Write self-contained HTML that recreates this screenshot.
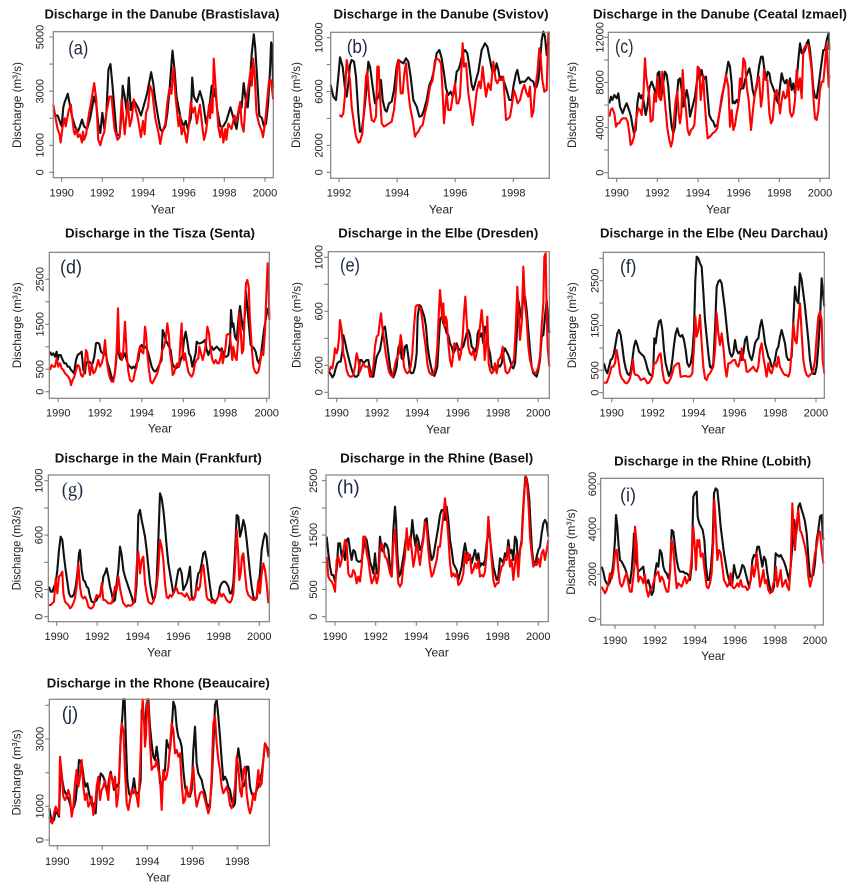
<!DOCTYPE html>
<html><head><meta charset="utf-8"><style>
html,body{margin:0;padding:0;background:#fff;}
svg{display:block;}
.t{font-family:"Liberation Sans",Arial,sans-serif;font-weight:bold;font-size:13px;fill:#111;text-anchor:middle;}
.tk{font-family:"Liberation Sans",Arial,sans-serif;font-size:11px;fill:#222;text-anchor:middle;}
.yl{font-family:"Liberation Sans",Arial,sans-serif;font-size:12px;fill:#222;text-anchor:middle;}
.yr{font-family:"Liberation Sans",Arial,sans-serif;font-size:12px;fill:#222;text-anchor:middle;}
.pl{font-family:"Liberation Sans",Arial,sans-serif;font-size:19px;fill:#1F2A44;}
.ps{font-family:"Liberation Serif","Times New Roman",serif;font-size:20px;fill:#1F2A44;}
.box{fill:none;stroke:#808080;stroke-width:1.2;}
.ax{fill:none;stroke:#808080;stroke-width:1.1;}
.k{fill:none;stroke:#111;stroke-width:2.1;stroke-linejoin:round;vector-effect:non-scaling-stroke;}
.r{fill:none;stroke:#ff0000;stroke-width:2.1;stroke-linejoin:round;vector-effect:non-scaling-stroke;}
</style></head><body>
<svg width="854" height="891" viewBox="0 0 854 891" xmlns="http://www.w3.org/2000/svg">
<rect width="854" height="891" fill="#fff"/>

<!-- ============ (a) ============ -->
<text class="t" x="162" y="18.5" textLength="235" lengthAdjust="spacingAndGlyphs">Discharge in the Danube (Brastislava)</text>
<g transform="translate(61.67,172.33) scale(20.333,-0.027067)">
<polyline class="k" points="-0.41,2300 -0.3,2100 -0.2,2100 -0.05,1800 0,1700 0.08,2400 0.15,2600 0.3,2900 0.4,2500 0.5,2100 0.65,1700 0.8,1500 0.9,1700 1,1950 1.1,1700 1.25,1600 1.4,2000 1.5,2400 1.6,2800 1.7,2500 1.8,1800 1.9,1450 2,2200 2.1,1600 2.2,2200 2.3,3800 2.4,4000 2.5,3200 2.6,2300 2.7,1400 2.85,1350 2.95,2200 3,3200 3.1,2800 3.2,2200 3.3,3500 3.4,2300 3.5,2600 3.6,2600 3.75,2400 3.9,2100 4.05,2500 4.2,2900 4.4,3700 4.5,3300 4.6,2700 4.75,2000 4.85,1600 4.95,1500 5.1,1700 5.2,2200 5.3,3000 5.45,4500 5.55,3800 5.65,2800 5.75,2400 5.85,2000 6,1700 6.1,1900 6.2,1600 6.35,2000 6.42,3500 6.5,2800 6.65,2600 6.8,3000 6.95,2600 7.1,1800 7.25,2300 7.38,3200 7.48,2800 7.55,3100 7.65,2300 7.8,1700 7.95,1700 8.1,1900 8.3,2400 8.45,2000 8.6,1600 8.7,2200 8.85,2400 8.95,3300 9.05,2700 9.15,2400 9.25,3300 9.35,4400 9.45,5100 9.52,4600 9.62,3400 9.72,2100 9.85,2000 9.95,1700 10.05,1800 10.15,2500 10.25,3800 10.3,4800 10.35,4700 10.4,3100"/>
<polyline class="r" points="-0.41,2500 -0.3,2000 -0.2,1600 -0.1,1400 -0.05,1100 0.05,1700 0.15,2000 0.2,1700 0.35,2300 0.45,2500 0.6,1500 0.65,1400 0.72,1600 0.8,1300 0.9,1400 1,1100 1.05,1500 1.1,1200 1.2,1400 1.35,2200 1.45,2600 1.6,3300 1.7,2700 1.8,1200 1.9,1000 2,1300 2.1,1500 2.2,2200 2.35,2800 2.45,2800 2.6,1600 2.75,1200 2.85,1300 2.95,2700 3.05,1800 3.1,1400 3.25,2600 3.35,1700 3.45,2000 3.55,2700 3.65,2300 3.75,2000 3.9,1300 4,1900 4.08,1400 4.15,2200 4.25,2400 4.35,3200 4.45,3000 4.6,2000 4.75,1500 4.85,1050 4.95,1500 5.1,1800 5.2,2600 5.3,3100 5.4,2900 5.5,3900 5.6,2800 5.75,1700 5.82,2100 5.9,1400 6,1700 6.15,1100 6.25,1700 6.35,2600 6.45,2200 6.55,2400 6.65,1800 6.8,2500 6.9,1800 7,1200 7.1,1500 7.25,2500 7.3,2000 7.35,2700 7.42,2200 7.48,4200 7.55,3400 7.7,1700 7.8,1300 7.88,1700 7.95,1100 8.05,1600 8.1,1200 8.2,1800 8.35,1600 8.5,2100 8.6,1900 8.7,2300 8.78,2600 8.85,1800 8.95,1500 9.05,2600 9.15,3000 9.3,3800 9.35,3200 9.42,4200 9.5,3500 9.58,2200 9.7,1800 9.85,1500 9.9,1300 10,1800 10.1,2600 10.2,3400 10.3,3400 10.4,2700"/>
</g>
<rect class="box" x="53.3" y="31.7" width="220" height="146"/>
<path class="ax" d="M61.7,177.7v4M102.3,177.7v4M143,177.7v4M183.7,177.7v4M224.3,177.7v4M265,177.7v4M49.3,172.3h4M49.3,145.3h4M49.3,118.2h4M49.3,91.2h4M49.3,64.1h4M49.3,37h4"/>
<text class="tk" x="61.7" y="196.5">1990</text><text class="tk" x="102.3" y="196.5">1992</text><text class="tk" x="143" y="196.5">1994</text><text class="tk" x="183.7" y="196.5">1996</text><text class="tk" x="224.3" y="196.5">1998</text><text class="tk" x="265" y="196.5">2000</text>
<text class="tk" transform="translate(43.5,172.3) rotate(-90)">0</text><text class="tk" transform="translate(43.5,145.3) rotate(-90)">1000</text><text class="tk" transform="translate(43.5,91.2) rotate(-90)">3000</text><text class="tk" transform="translate(43.5,37) rotate(-90)">5000</text>
<text class="yl" transform="translate(21,105) rotate(-90)" textLength="86" lengthAdjust="spacingAndGlyphs">Discharge (m³/s)</text>
<text class="yr" x="163" y="213.5">Year</text>
<text class="pl" x="68.3" y="54.5" textLength="20" lengthAdjust="spacingAndGlyphs">(a)</text>

<!-- ============ (b) ============ -->
<text class="t" x="441" y="18.7" textLength="215" lengthAdjust="spacingAndGlyphs">Discharge in the Danube (Svistov)</text>
<g transform="translate(280,0) scale(0.333333)">
<polyline class="k" points="152,255 160,290 168,300 175,230 180,172 188,200 195,265 200,290 205,250 210,195 215,180 222,185 228,230 235,340 240,395 245,395 252,340 258,280 265,185 270,200 278,260 285,310 290,300 297,285 303,240 308,300 315,330 320,335 327,310 335,305 342,270 350,200 355,180 362,185 370,190 378,175 385,185 392,230 400,300 410,320 418,350 425,348 432,330 440,300 448,255 455,240 462,210 470,160 478,150 485,175 492,220 498,265 505,285 512,275 518,290 523,275 530,215 535,210 540,195 548,160 555,150 562,160 568,200 575,255 580,270 588,240 595,215 605,150 615,130 622,140 630,180 637,215 645,212 650,190 655,210 660,240 665,230 672,245 680,270 688,300 695,300 700,260 708,220 712,210 720,250 725,245 735,245 745,232 752,240 760,245 765,265 770,260 775,240 780,190 785,120 790,95 795,110 800,165 803,135 808,125"/>
<polyline class="r" points="178,345 185,350 190,340 195,285 200,180 205,210 210,240 215,320 222,370 228,410 235,428 240,425 247,400 252,330 258,230 262,215 268,300 275,360 282,365 288,350 292,200 296,200 300,290 305,370 312,380 320,375 327,370 335,365 342,330 348,270 352,200 357,180 362,280 368,280 373,220 378,190 383,255 390,320 398,360 405,410 410,400 415,395 422,380 428,375 435,340 442,310 450,260 458,240 465,180 470,175 477,180 483,190 488,280 492,370 497,310 500,280 505,330 512,330 518,290 525,250 530,310 535,310 540,290 548,130 552,200 558,190 565,280 572,330 578,375 585,320 590,275 597,245 602,265 608,200 612,240 618,290 625,250 632,270 640,185 647,240 652,250 658,235 665,240 670,230 678,360 685,355 690,350 695,320 702,270 708,290 713,310 720,300 727,270 733,255 740,280 745,290 750,260 755,350 760,335 765,270 772,220 778,145 782,170 787,240 793,275 800,270 805,100 808,95"/>
</g>
<rect class="box" x="330.7" y="32.3" width="218.6" height="146"/>
<path class="ax" d="M339,178.3v4M397.1,178.3v4M455.2,178.3v4M513.3,178.3v4M326.7,172.3h4M326.7,145.4h4M326.7,118.5h4M326.7,91.5h4M326.7,64.6h4M326.7,37.7h4"/>
<text class="tk" x="339" y="196.7">1992</text><text class="tk" x="397.1" y="196.7">1994</text><text class="tk" x="455.2" y="196.7">1996</text><text class="tk" x="513.3" y="196.7">1998</text>
<text class="tk" transform="translate(322.5,172.3) rotate(-90)">0</text><text class="tk" transform="translate(322.5,145.4) rotate(-90)">2000</text><text class="tk" transform="translate(322.5,91.5) rotate(-90)">6000</text><text class="tk" transform="translate(322.5,37.7) rotate(-90)">10000</text>
<text class="yl" transform="translate(300,105) rotate(-90)" textLength="86" lengthAdjust="spacingAndGlyphs">Discharge (m³/s)</text>
<text class="yr" x="441" y="213.3">Year</text>
<text class="pl" x="346.7" y="53" textLength="21" lengthAdjust="spacingAndGlyphs">(b)</text>

<!-- ============ (c) ============ -->
<text class="t" x="720" y="18.7" textLength="254" lengthAdjust="spacingAndGlyphs">Discharge in the Danube (Ceatal Izmael)</text>
<g transform="translate(560,0) scale(0.333333)">
<polyline class="k" points="148,310 153,290 157,300 163,285 170,295 175,280 180,320 188,340 195,320 200,310 207,330 213,350 218,380 222,400 227,390 232,310 237,280 243,295 247,285 252,310 257,345 262,320 268,265 275,245 282,265 288,285 293,220 298,215 303,300 308,260 315,215 320,225 325,260 330,330 335,380 340,400 345,380 350,300 355,240 360,235 365,270 370,320 375,300 380,270 385,295 390,350 395,330 400,310 405,290 410,250 415,225 420,230 425,210 430,240 438,230 443,290 448,345 455,360 460,365 465,380 472,375 478,340 485,300 490,270 495,245 500,215 505,185 510,200 515,250 518,310 522,305 525,310 530,300 535,310 540,270 545,265 550,265 555,240 562,220 568,205 573,230 578,270 583,290 590,260 597,200 603,170 608,170 612,200 618,240 623,215 628,220 632,245 638,260 645,280 650,300 655,310 660,260 665,220 670,240 675,250 680,240 685,265 690,235 695,270 700,250 705,280 710,240 715,180 720,130 725,160 730,160 735,150 740,130 745,120 750,150 755,200 760,265 765,290 770,295 778,240 785,185 790,150 795,150 800,120 803,110 806,100 808,150"/>
<polyline class="r" points="148,350 152,330 157,325 163,340 168,380 173,370 178,370 183,360 188,355 193,355 198,355 203,365 208,400 212,435 216,430 222,410 228,360 235,325 240,330 245,345 250,290 255,175 258,225 262,255 268,290 272,365 278,360 283,280 288,305 293,230 297,290 302,300 307,215 312,275 318,340 322,385 328,420 333,440 338,420 342,360 347,300 352,275 356,340 360,370 364,340 368,210 372,280 378,330 383,390 388,405 393,390 398,385 403,375 408,310 413,200 418,205 422,300 426,260 430,225 433,290 438,360 443,415 450,410 458,400 465,395 472,385 478,340 485,290 492,260 498,225 505,260 510,380 515,330 520,390 525,375 530,340 535,315 540,235 545,260 550,175 555,185 560,260 566,300 573,390 580,320 585,280 590,250 597,230 603,320 607,290 612,210 617,240 622,240 628,340 633,370 638,360 645,280 650,270 655,295 660,340 665,300 670,275 675,295 680,290 685,245 690,335 695,350 700,340 705,300 710,210 715,270 720,235 725,295 730,150 735,140 740,135 745,135 750,170 755,210 760,290 765,355 770,360 775,330 780,270 785,245 790,245 795,190 800,130 803,200 806,260 808,225"/>
</g>
<rect class="box" x="608.3" y="32.3" width="221" height="146"/>
<path class="ax" d="M616.7,178.3v4M657.3,178.3v4M698,178.3v4M738.7,178.3v4M779.3,178.3v4M820,178.3v4M604.3,172.7h4M604.3,150.1h4M604.3,127.6h4M604.3,105h4M604.3,82.4h4M604.3,59.9h4M604.3,37.3h4"/>
<text class="tk" x="616.7" y="196.7">1990</text><text class="tk" x="657.3" y="196.7">1992</text><text class="tk" x="698" y="196.7">1994</text><text class="tk" x="738.7" y="196.7">1996</text><text class="tk" x="779.3" y="196.7">1998</text><text class="tk" x="820" y="196.7">2000</text>
<text class="tk" transform="translate(603.5,172.7) rotate(-90)">0</text><text class="tk" transform="translate(603.5,127.6) rotate(-90)">4000</text><text class="tk" transform="translate(603.5,82.4) rotate(-90)">8000</text><text class="tk" transform="translate(603.5,37.3) rotate(-90)">12000</text>
<text class="yl" transform="translate(576,105) rotate(-90)" textLength="86" lengthAdjust="spacingAndGlyphs">Discharge (m³/s)</text>
<text class="yr" x="718.3" y="213.3">Year</text>
<text class="pl" x="615" y="53" textLength="18.5" lengthAdjust="spacingAndGlyphs">(c)</text>

<!-- ============ (d) ============ -->
<text class="t" x="160" y="237.6" textLength="190" lengthAdjust="spacingAndGlyphs">Discharge in the Tisza (Senta)</text>
<g transform="translate(0,220) scale(0.333333)">
<polyline class="k" points="150,395 155,405 160,400 165,410 170,395 173,420 177,405 182,405 188,420 193,430 198,430 203,440 208,440 213,450 218,455 222,460 228,420 233,405 240,400 245,395 250,450 255,460 258,430 262,425 268,425 273,430 278,430 283,410 288,370 293,368 298,372 303,395 308,400 313,400 318,405 323,430 328,445 333,465 338,480 343,470 348,430 353,350 356,400 360,415 365,420 370,410 375,400 380,420 385,435 390,440 395,445 400,440 405,445 410,430 415,420 420,380 425,375 430,385 435,380 440,385 445,400 450,420 455,440 460,450 465,455 470,450 475,440 480,430 485,420 488,330 492,340 497,360 502,370 507,380 512,390 517,430 522,440 527,445 532,442 537,440 542,420 547,410 552,360 557,335 562,365 567,400 572,410 577,440 582,420 587,400 590,365 595,370 600,370 605,368 610,365 615,360 620,390 625,405 630,390 635,380 640,390 645,385 650,380 655,385 660,392 665,385 670,400 675,410 680,410 685,405 690,365 693,270 697,320 700,310 705,350 710,360 715,300 720,258 725,300 730,330 735,280 738,215 742,260 747,320 752,375 757,380 762,385 767,395 772,420 777,430 782,410 787,370 792,330 797,300 802,270 805,265 808,290"/>
<polyline class="r" points="150,450 155,435 160,440 165,440 170,415 175,440 180,430 185,445 190,450 195,460 200,465 205,470 210,480 213,495 218,480 223,470 228,450 233,435 238,440 243,465 248,470 253,455 258,390 262,400 265,430 270,465 275,430 280,460 285,455 290,440 295,420 300,440 305,430 310,410 315,360 320,420 325,455 330,475 335,485 340,485 345,455 350,390 354,265 358,400 362,400 366,420 370,390 375,305 380,400 385,455 390,480 395,485 400,480 405,455 410,440 415,400 420,380 425,395 430,400 435,320 438,340 442,400 447,450 452,485 457,490 462,480 467,470 472,460 477,440 482,420 487,390 492,380 497,360 502,310 507,350 510,400 515,430 518,465 522,460 527,440 532,430 537,440 542,350 545,310 548,400 552,420 555,400 560,430 565,455 570,465 575,470 580,460 585,430 590,420 595,415 598,380 603,400 608,420 613,400 618,370 622,320 627,340 632,390 637,420 642,430 647,420 652,430 657,430 662,410 665,390 668,430 672,410 677,380 680,345 685,342 690,345 693,380 697,420 700,380 705,410 710,420 715,350 718,280 722,330 726,400 730,390 735,250 738,190 742,180 746,200 750,300 755,380 760,440 765,455 770,460 775,455 780,430 785,395 790,405 795,330 800,200 803,130 806,200 808,300"/>
</g>
<rect class="box" x="49.3" y="252.3" width="220" height="146"/>
<path class="ax" d="M58.3,398.3v4M100,398.3v4M141.7,398.3v4M183.3,398.3v4M225,398.3v4M266.7,398.3v4M45.3,391.7h4M45.3,369.2h4M45.3,346.8h4M45.3,324.3h4M45.3,301.8h4M45.3,279.3h4"/>
<text class="tk" x="58.3" y="416.7">1990</text><text class="tk" x="100" y="416.7">1992</text><text class="tk" x="141.7" y="416.7">1994</text><text class="tk" x="183.3" y="416.7">1996</text><text class="tk" x="225" y="416.7">1998</text><text class="tk" x="266.7" y="416.7">2000</text>
<text class="tk" transform="translate(43.5,391.7) rotate(-90)">0</text><text class="tk" transform="translate(43.5,369.2) rotate(-90)">500</text><text class="tk" transform="translate(43.5,324.3) rotate(-90)">1500</text><text class="tk" transform="translate(43.5,279.3) rotate(-90)">2500</text>
<text class="yl" transform="translate(21,325.3) rotate(-90)" textLength="86" lengthAdjust="spacingAndGlyphs">Discharge (m³/s)</text>
<text class="yr" x="160" y="432.5">Year</text>
<text class="pl" x="60" y="273.3" textLength="22" lengthAdjust="spacingAndGlyphs">(d)</text>

<!-- ============ (e) ============ -->
<text class="t" x="438.3" y="237.6" textLength="200" lengthAdjust="spacingAndGlyphs">Discharge in the Elbe (Dresden)</text>
<g transform="translate(280,220) scale(0.333333)">
<polyline class="k" points="147,455 152,462 157,472 162,465 167,445 172,430 177,425 182,425 187,395 190,345 195,365 200,390 205,410 210,430 215,448 220,462 225,470 230,470 235,465 240,420 245,420 250,430 255,425 260,420 265,420 270,450 275,470 280,470 285,440 290,410 295,400 300,390 305,360 310,325 315,320 320,360 325,400 330,440 335,465 340,472 345,460 350,440 355,385 360,370 365,415 370,420 375,380 380,375 385,410 390,455 395,460 400,458 405,440 410,400 413,290 418,255 423,260 428,275 433,290 438,320 443,380 448,415 453,440 458,460 463,468 468,455 472,440 476,370 480,300 485,290 490,310 495,320 500,340 505,345 510,370 515,380 520,400 525,390 530,370 535,385 540,390 545,385 550,380 555,360 560,340 565,330 570,345 575,380 580,385 585,395 590,380 593,340 597,330 600,350 605,340 610,370 615,320 620,340 625,380 630,400 635,440 640,450 645,445 650,455 655,435 660,440 665,430 670,400 675,385 680,395 685,405 690,420 695,440 700,445 705,430 710,350 715,240 720,270 725,300 730,220 735,230 740,270 745,330 750,390 755,440 760,460 765,465 770,470 775,450 780,420 785,350 790,345 795,290 800,240 803,280 808,340"/>
<polyline class="r" points="147,455 152,440 157,445 162,415 165,385 170,400 173,390 177,355 180,300 185,330 190,400 195,420 200,450 205,465 210,470 215,470 220,465 225,440 230,400 235,420 240,455 245,440 250,430 255,440 260,440 265,440 270,470 275,465 280,440 285,380 290,350 295,345 300,300 303,280 307,320 312,360 317,400 322,430 327,455 332,465 337,470 342,450 347,425 352,410 357,400 362,345 367,380 372,440 377,455 382,460 387,455 392,440 397,400 402,320 407,260 412,255 417,260 422,265 427,300 432,345 437,380 442,430 447,455 452,462 457,465 462,458 467,440 472,380 476,290 480,210 484,260 487,300 490,250 493,320 497,290 500,300 505,370 510,420 515,440 520,400 523,370 528,380 533,385 538,420 543,400 548,350 552,280 556,230 560,300 565,380 570,400 575,405 580,390 585,420 590,400 595,370 600,320 605,270 610,330 614,420 618,380 622,290 626,430 630,450 635,460 640,455 645,430 650,460 655,420 660,415 665,400 668,380 672,420 677,455 682,460 687,455 692,440 697,430 702,420 707,330 712,200 716,280 720,360 725,310 730,140 735,250 740,300 745,380 750,420 755,440 760,455 765,460 770,455 775,440 780,410 785,320 790,250 793,110 797,100 800,280 803,380 808,440"/>
</g>
<rect class="box" x="328.3" y="251.7" width="221" height="146.6"/>
<path class="ax" d="M336.7,398.3v4M377,398.3v4M417.3,398.3v4M457.7,398.3v4M498,398.3v4M538.3,398.3v4M324.3,392.3h4M324.3,365.3h4M324.3,338.3h4M324.3,311.3h4M324.3,284.3h4M324.3,257.3h4"/>
<text class="tk" x="336.7" y="416.7">1990</text><text class="tk" x="377" y="416.7">1992</text><text class="tk" x="417.3" y="416.7">1994</text><text class="tk" x="457.7" y="416.7">1996</text><text class="tk" x="498" y="416.7">1998</text><text class="tk" x="538.3" y="416.7">2000</text>
<text class="tk" transform="translate(322.7,392.3) rotate(-90)">0</text><text class="tk" transform="translate(322.7,365.3) rotate(-90)">200</text><text class="tk" transform="translate(322.7,311.3) rotate(-90)">600</text><text class="tk" transform="translate(322.7,257.3) rotate(-90)">1000</text>
<text class="yl" transform="translate(300.7,325) rotate(-90)" textLength="86" lengthAdjust="spacingAndGlyphs">Discharge (m³/s)</text>
<text class="yr" x="438.3" y="433.3">Year</text>
<text class="pl" x="340" y="271.7" textLength="20" lengthAdjust="spacingAndGlyphs">(e)</text>

<!-- ============ (f) ============ -->
<text class="t" x="714" y="237.6" textLength="228" lengthAdjust="spacingAndGlyphs">Discharge in the Elbe (Neu Darchau)</text>
<g transform="translate(560,220) scale(0.333333)">
<polyline class="k" points="132,430 137,450 142,460 147,440 152,420 157,415 162,400 167,370 172,340 177,330 182,345 187,380 192,420 197,445 202,460 207,465 212,455 217,420 222,380 227,362 232,375 237,395 242,400 247,405 252,410 257,425 262,445 267,460 272,465 277,468 280,440 283,355 287,370 292,330 297,305 302,300 307,330 312,390 317,430 322,450 327,468 332,455 337,420 342,375 347,340 352,325 357,345 362,350 367,345 372,360 377,390 382,430 387,440 392,430 397,400 402,330 406,180 410,110 415,115 420,130 425,140 430,215 435,300 440,350 445,400 450,440 455,445 460,430 465,330 470,200 475,185 480,180 485,190 490,230 495,270 500,320 505,370 510,400 515,410 520,400 525,360 530,390 535,400 540,395 545,420 550,400 555,360 560,350 565,390 570,410 575,420 580,400 585,370 590,360 595,355 600,320 605,300 610,330 615,370 620,390 625,410 630,420 635,440 640,440 645,420 650,390 655,380 660,350 665,330 670,350 675,370 680,410 685,420 690,420 695,410 700,305 705,200 710,240 715,250 720,160 725,180 730,220 735,260 740,310 745,360 750,420 755,450 760,462 765,462 770,440 775,380 780,300 785,175 790,230 793,260"/>
<polyline class="r" points="132,488 140,488 145,475 150,460 155,440 160,440 165,430 170,390 175,420 180,460 185,475 190,480 195,488 200,490 205,485 210,475 215,450 219,420 223,460 227,465 232,465 237,470 242,480 247,478 252,475 257,480 262,490 267,488 272,480 277,470 282,430 287,430 292,420 297,405 302,400 307,450 312,480 317,488 322,490 327,485 332,475 337,460 342,440 347,435 352,430 357,430 362,470 367,470 372,468 377,468 382,470 387,470 392,468 397,460 402,380 406,290 410,350 415,330 420,285 425,370 430,440 435,475 440,480 445,465 450,460 455,450 460,440 465,390 470,280 475,340 480,375 485,340 490,380 495,440 500,470 505,430 510,430 515,425 520,420 525,420 530,435 535,440 540,420 545,385 550,420 555,420 560,455 565,455 570,450 575,445 580,440 585,450 590,455 595,440 600,390 605,370 610,410 615,440 620,470 625,430 630,455 635,460 640,440 645,430 650,440 655,410 660,440 665,450 670,460 675,465 680,465 685,470 690,455 695,390 700,310 705,360 710,370 715,300 720,250 725,340 730,420 735,450 740,465 745,470 750,465 755,460 760,450 765,420 770,350 775,290 780,275 785,300 788,420 793,460"/>
</g>
<rect class="box" x="603.3" y="252.3" width="221" height="146"/>
<path class="ax" d="M611.7,398.3v4M652.6,398.3v4M693.5,398.3v4M734.3,398.3v4M775.2,398.3v4M816,398.3v4M599.3,392.7h4M599.3,370.3h4M599.3,347.9h4M599.3,325.5h4M599.3,303.1h4M599.3,280.7h4M599.3,258.3h4"/>
<text class="tk" x="611.7" y="416.7">1990</text><text class="tk" x="652.6" y="416.7">1992</text><text class="tk" x="693.5" y="416.7">1994</text><text class="tk" x="734.3" y="416.7">1996</text><text class="tk" x="775.2" y="416.7">1998</text><text class="tk" x="816" y="416.7">2000</text>
<text class="tk" transform="translate(598.5,392.7) rotate(-90)">0</text><text class="tk" transform="translate(598.5,370.3) rotate(-90)">500</text><text class="tk" transform="translate(598.5,325.5) rotate(-90)">1500</text><text class="tk" transform="translate(598.5,280.7) rotate(-90)">2500</text>
<text class="yl" transform="translate(576,325.3) rotate(-90)" textLength="86" lengthAdjust="spacingAndGlyphs">Discharge (m³/s)</text>
<text class="yr" x="713.3" y="433.3">Year</text>
<text class="pl" x="620" y="273" textLength="16.5" lengthAdjust="spacingAndGlyphs">(f)</text>

<!-- ============ (g) ============ -->
<text class="t" x="158.3" y="462.6" textLength="207" lengthAdjust="spacingAndGlyphs">Discharge in the Main (Frankfurt)</text>
<g transform="translate(0,440) scale(0.333333)">
<polyline class="k" points="147,440 152,455 157,455 162,440 167,430 172,390 177,330 182,290 187,300 192,350 197,390 202,425 207,460 212,470 217,470 222,462 227,440 232,400 237,340 240,330 245,390 250,420 255,425 260,440 265,445 270,470 275,485 280,487 285,485 290,480 295,470 300,465 305,450 310,410 315,400 320,385 325,410 330,440 335,460 340,485 345,480 350,430 355,390 360,320 365,345 370,390 375,410 380,425 385,440 390,455 395,470 400,490 405,485 410,430 415,225 420,210 425,240 430,265 435,290 440,330 445,380 450,430 455,460 460,480 465,470 470,420 475,300 480,160 485,175 490,210 495,260 500,320 505,370 510,400 515,430 520,460 525,450 530,420 535,390 540,385 545,400 550,450 555,440 560,430 565,410 570,380 575,470 580,475 585,470 590,430 595,400 600,395 605,370 610,340 615,335 620,360 625,400 630,440 635,475 640,480 645,487 650,480 655,470 660,440 665,430 670,425 675,425 680,430 685,440 690,460 695,460 700,430 705,340 710,225 715,230 720,290 725,270 730,240 735,260 740,300 745,350 750,400 755,440 760,470 765,480 770,475 775,440 780,400 785,330 790,300 795,280 800,290 803,330 806,350"/>
<polyline class="r" points="147,495 152,495 157,490 162,485 167,415 172,460 177,410 182,405 187,395 190,460 195,485 200,490 205,495 210,505 215,500 220,490 225,475 230,440 235,370 240,440 245,470 250,475 255,470 260,480 265,500 270,505 275,505 280,500 285,480 290,465 295,470 300,470 305,430 310,480 315,480 320,485 325,490 330,490 335,490 340,470 345,440 350,450 355,410 360,445 365,470 370,490 375,495 380,500 385,495 390,498 395,495 400,490 405,470 410,380 415,335 420,400 425,360 430,350 435,430 440,460 445,485 450,490 455,492 460,485 465,470 470,440 475,390 480,300 485,320 490,360 495,430 500,470 505,475 510,465 515,470 520,460 525,450 530,445 535,460 540,460 545,460 550,465 555,470 560,460 565,470 570,480 575,475 580,480 585,470 590,440 595,450 600,440 605,390 610,375 615,420 620,470 625,480 630,480 635,488 640,485 645,490 650,480 655,470 660,460 665,470 670,462 675,470 680,480 685,485 690,488 695,480 700,460 705,380 710,270 714,330 718,420 722,400 726,350 730,340 735,400 740,450 745,465 750,470 755,475 760,480 765,480 770,470 775,420 780,460 785,400 790,370 795,390 800,430 805,490"/>
</g>
<rect class="box" x="48.3" y="475" width="221" height="146.7"/>
<path class="ax" d="M56.7,621.7v4M97.2,621.7v4M137.8,621.7v4M178.3,621.7v4M218.8,621.7v4M259.3,621.7v4M44.3,616.7h4M44.3,589.5h4M44.3,562.3h4M44.3,535.1h4M44.3,507.9h4M44.3,480.7h4"/>
<text class="tk" x="56.7" y="640">1990</text><text class="tk" x="97.2" y="640">1992</text><text class="tk" x="137.8" y="640">1994</text><text class="tk" x="178.3" y="640">1996</text><text class="tk" x="218.8" y="640">1998</text><text class="tk" x="259.3" y="640">2000</text>
<text class="tk" transform="translate(42.7,616.7) rotate(-90)">0</text><text class="tk" transform="translate(42.7,589.5) rotate(-90)">200</text><text class="tk" transform="translate(42.7,535.1) rotate(-90)">600</text><text class="tk" transform="translate(42.7,480.7) rotate(-90)">1000</text>
<text class="yl" transform="translate(20.7,548.3) rotate(-90)" textLength="84" lengthAdjust="spacingAndGlyphs">Discharge (m3/s)</text>
<text class="yr" x="159.3" y="656.5">Year</text>
<text class="ps" x="61.7" y="496" textLength="21.5" lengthAdjust="spacingAndGlyphs">(g)</text>

<!-- ============ (h) ============ -->
<text class="t" x="436.7" y="462.6" textLength="193" lengthAdjust="spacingAndGlyphs">Discharge in the Rhine (Basel)</text>
<g transform="translate(280,440) scale(0.333333)">
<polyline class="k" points="140,290 145,340 150,380 155,405 160,405 165,425 170,390 175,310 180,310 185,350 190,330 195,360 200,300 205,295 210,330 215,360 220,330 225,335 230,360 235,365 240,365 245,360 250,330 255,290 260,300 265,330 270,365 275,380 280,400 285,340 290,400 295,400 300,290 305,330 310,335 315,310 320,315 325,330 330,380 335,410 340,270 345,200 348,240 352,340 357,410 362,400 367,370 372,340 377,300 382,305 387,310 392,300 397,240 402,290 407,320 410,285 415,300 420,330 425,320 430,290 435,240 440,235 445,290 450,330 455,360 460,350 465,320 470,290 475,260 480,225 485,210 490,210 495,240 500,200 505,240 510,300 515,330 520,370 525,380 530,390 535,420 540,400 545,380 550,340 555,310 560,340 565,360 570,345 575,370 580,350 585,330 590,360 595,340 600,380 605,370 610,375 615,360 620,310 625,280 630,295 635,340 640,380 645,400 650,420 655,410 660,355 665,360 670,370 675,340 680,350 685,300 690,340 695,330 700,360 705,290 710,300 715,390 720,330 725,300 728,230 732,165 736,110 740,115 744,140 748,180 752,260 756,330 760,365 765,375 770,350 775,330 780,320 785,280 790,250 795,240 800,250 805,290"/>
<polyline class="r" points="140,350 145,410 150,420 155,425 160,435 165,455 170,360 175,350 180,380 185,360 190,335 195,300 200,315 205,400 210,410 215,410 220,390 225,400 230,430 235,410 240,425 245,380 250,290 255,290 260,340 265,360 270,400 275,430 280,420 285,400 290,430 295,410 300,330 305,310 310,325 315,350 320,355 325,375 330,400 335,410 340,310 345,270 350,360 355,430 360,440 365,430 370,380 375,350 380,265 385,330 390,290 395,330 400,380 405,350 410,310 415,340 420,375 425,330 430,300 435,245 440,260 445,330 450,380 455,410 460,400 465,380 470,360 475,320 480,320 485,270 490,230 495,175 500,230 505,290 510,370 515,410 520,400 525,410 530,400 535,435 540,430 545,420 550,400 555,340 560,370 565,340 570,350 575,400 580,390 585,370 590,385 595,360 600,410 605,405 610,410 615,395 620,340 625,230 630,290 635,360 640,420 645,440 650,430 655,430 660,400 665,380 670,375 675,355 680,360 685,320 690,380 695,360 700,420 705,370 710,340 715,410 720,330 725,310 730,210 734,140 738,110 742,140 746,200 750,290 755,340 760,380 765,370 770,375 775,355 780,380 785,340 790,330 795,360 800,330 805,300"/>
</g>
<rect class="box" x="326" y="475" width="222.3" height="146.7"/>
<path class="ax" d="M335,621.7v4M375.7,621.7v4M416.3,621.7v4M457,621.7v4M497.7,621.7v4M538.3,621.7v4M322,616.7h4M322,589.5h4M322,562.3h4M322,535.1h4M322,507.9h4M322,480.7h4"/>
<text class="tk" x="335" y="640">1990</text><text class="tk" x="375.7" y="640">1992</text><text class="tk" x="416.3" y="640">1994</text><text class="tk" x="457" y="640">1996</text><text class="tk" x="497.7" y="640">1998</text><text class="tk" x="538.3" y="640">2000</text>
<text class="tk" transform="translate(317,616.7) rotate(-90)">0</text><text class="tk" transform="translate(317,589.5) rotate(-90)">500</text><text class="tk" transform="translate(317,535.1) rotate(-90)">1500</text><text class="tk" transform="translate(317,480.7) rotate(-90)">2500</text>
<text class="yl" transform="translate(298.3,548.3) rotate(-90)" textLength="84" lengthAdjust="spacingAndGlyphs">Discharge (m3/s)</text>
<text class="yr" x="436.7" y="656.5">Year</text>
<text class="pl" x="336.7" y="493.3" textLength="23" lengthAdjust="spacingAndGlyphs">(h)</text>

<!-- ============ (i) ============ -->
<text class="t" x="712.7" y="465.3" textLength="197" lengthAdjust="spacingAndGlyphs">Discharge in the Rhine (Lobith)</text>
<g transform="translate(560,440) scale(0.333333)">
<polyline class="k" points="125,380 130,395 135,420 140,430 145,435 150,425 155,405 160,370 165,300 168,225 172,260 176,320 180,360 185,365 190,375 195,385 200,400 205,420 210,430 215,390 220,320 222,280 226,310 230,370 235,395 240,390 245,385 250,380 255,425 260,430 265,420 270,440 275,465 280,455 285,400 290,370 295,380 300,330 305,340 310,380 315,395 320,400 325,415 330,395 335,270 340,275 345,320 350,360 355,385 360,395 365,395 370,395 375,400 380,400 385,405 390,420 395,380 400,170 405,160 410,155 413,230 418,250 423,260 428,270 433,300 438,380 443,420 448,420 453,380 458,310 462,160 467,145 472,150 477,200 482,260 487,300 492,340 497,370 502,400 507,420 512,435 517,430 522,375 527,400 532,415 537,410 542,395 547,375 552,380 557,400 562,420 567,440 572,420 577,360 582,345 587,350 592,320 597,320 602,350 607,380 612,350 617,360 622,400 627,430 632,455 637,455 642,440 647,340 652,345 657,350 662,345 667,355 672,365 677,380 682,400 687,420 692,380 697,320 700,250 703,240 706,300 710,270 715,200 720,190 725,210 730,225 735,245 740,280 745,350 750,410 755,410 760,405 765,370 770,300 775,270 780,230 785,225 788,280 790,300"/>
<polyline class="r" points="125,440 130,450 135,460 140,450 145,430 150,400 155,415 160,395 165,340 170,330 175,390 180,430 185,440 190,430 195,410 200,400 205,430 210,455 215,455 220,410 223,380 225,260 230,310 235,425 240,410 245,415 250,430 255,405 260,450 265,470 270,450 275,445 280,430 285,410 290,400 295,395 300,425 305,410 310,420 315,440 320,455 325,455 330,400 335,300 340,330 345,390 350,445 355,430 360,435 365,440 370,425 375,410 380,430 385,420 390,405 395,350 400,260 405,330 408,390 412,300 415,320 418,300 422,350 428,340 435,400 440,440 445,445 450,430 455,400 460,300 463,180 467,250 472,360 477,330 482,340 487,380 492,420 497,430 502,440 507,430 512,400 517,440 522,445 527,440 532,430 537,440 542,420 547,440 552,440 557,440 562,450 567,445 572,420 577,375 582,410 587,380 590,340 595,390 600,440 605,420 610,390 615,430 620,420 625,450 630,460 635,455 640,430 645,420 648,380 652,440 657,420 662,390 667,440 672,430 677,420 682,440 687,450 692,380 697,190 700,250 705,330 710,250 715,210 720,270 725,280 730,300 735,320 740,350 745,410 750,440 755,420 760,380 765,340 770,320 775,280 780,275 785,330 790,370"/>
</g>
<rect class="box" x="600.7" y="478.3" width="222.6" height="146.7"/>
<path class="ax" d="M615,625v4M655,625v4M695,625v4M735,625v4M775,625v4M815,625v4M596.7,619.3h4M596.7,574.2h4M596.7,529.1h4M596.7,484h4"/>
<text class="tk" x="615" y="644">1990</text><text class="tk" x="655" y="644">1992</text><text class="tk" x="695" y="644">1994</text><text class="tk" x="735" y="644">1996</text><text class="tk" x="775" y="644">1998</text><text class="tk" x="815" y="644">2000</text>
<text class="tk" transform="translate(596,619.3) rotate(-90)">0</text><text class="tk" transform="translate(596,574.2) rotate(-90)">2000</text><text class="tk" transform="translate(596,529.1) rotate(-90)">4000</text><text class="tk" transform="translate(596,484) rotate(-90)">6000</text>
<text class="yl" transform="translate(575,551.7) rotate(-90)" textLength="86" lengthAdjust="spacingAndGlyphs">Discharge (m³/s)</text>
<text class="yr" x="713.3" y="660.2">Year</text>
<text class="pl" x="620" y="501.7" textLength="16" lengthAdjust="spacingAndGlyphs">(i)</text>

<!-- ============ (j) ============ -->
<text class="t" x="158.3" y="687.6" textLength="223" lengthAdjust="spacingAndGlyphs">Discharge in the Rhone (Beaucaire)</text>
<g transform="translate(0,660) scale(0.333333)">
<polyline class="k" points="148,445 152,470 157,485 162,480 167,455 172,460 177,470 182,320 187,360 192,390 197,400 202,410 207,420 212,440 217,450 222,440 227,420 232,370 237,300 242,305 247,320 252,360 257,380 262,370 267,400 272,420 277,440 282,430 287,460 292,370 297,380 302,340 307,345 312,355 317,380 322,400 327,360 332,335 337,360 342,390 347,385 352,375 357,370 362,230 367,170 370,118 374,118 378,250 382,360 387,400 392,410 397,390 402,355 407,395 412,400 417,395 422,360 425,150 430,165 435,200 440,130 445,118 450,200 455,250 460,290 465,300 470,260 475,300 480,370 485,385 490,350 495,330 500,240 505,260 510,270 515,210 520,125 525,140 530,200 535,230 540,240 545,260 550,330 555,380 560,400 565,400 570,410 575,390 580,270 585,200 590,310 595,340 600,350 605,360 610,385 615,400 620,430 625,440 630,430 635,370 640,260 645,135 650,120 655,170 660,230 665,300 670,360 675,350 680,360 685,380 690,390 695,420 700,440 705,430 710,310 715,265 720,300 725,350 730,380 735,370 740,320 745,320 750,380 755,400 760,410 765,405 770,390 775,380 780,360 785,340 790,300 795,250 800,260 805,270 808,280"/>
<polyline class="r" points="148,470 152,485 157,490 162,460 167,440 172,450 177,465 180,290 185,340 190,410 195,420 200,410 205,390 210,410 215,470 220,440 225,370 230,330 235,380 240,350 245,300 250,380 255,420 260,400 265,440 270,430 275,410 280,465 285,440 290,380 295,350 300,420 305,390 310,380 315,360 320,390 325,420 330,340 335,350 340,380 345,350 350,440 355,400 360,280 365,190 370,210 375,330 380,430 385,450 390,420 395,390 400,400 405,390 410,410 415,440 420,330 425,180 428,118 432,180 435,260 438,225 442,118 446,150 450,250 455,330 460,320 465,320 470,300 475,330 480,350 485,450 490,330 495,360 500,350 505,320 510,260 515,190 520,210 525,280 530,270 535,290 540,280 545,370 550,430 555,420 560,380 565,410 570,405 575,360 580,320 585,400 590,440 595,420 600,400 605,395 610,400 615,420 620,440 625,460 630,440 635,350 640,190 645,170 650,250 655,300 660,330 665,380 670,400 675,390 680,380 685,400 690,435 695,445 700,420 705,380 710,290 715,320 720,390 725,410 730,330 735,320 740,400 745,440 750,460 755,440 760,400 765,420 770,380 775,330 780,380 785,370 790,300 795,250 800,260 805,290 808,280"/>
</g>
<rect class="box" x="49.3" y="699.3" width="220" height="146.4"/>
<path class="ax" d="M57.3,845.7v4M102.3,845.7v4M147.3,845.7v4M192.3,845.7v4M237.3,845.7v4M45.3,840h4M45.3,806.3h4M45.3,772.7h4M45.3,739h4M45.3,705.3h4"/>
<text class="tk" x="57.3" y="865">1990</text><text class="tk" x="102.3" y="865">1992</text><text class="tk" x="147.3" y="865">1994</text><text class="tk" x="192.3" y="865">1996</text><text class="tk" x="237.3" y="865">1998</text>
<text class="tk" transform="translate(43.3,840) rotate(-90)">0</text><text class="tk" transform="translate(43.3,806.3) rotate(-90)">1000</text><text class="tk" transform="translate(43.3,739) rotate(-90)">3000</text>
<text class="yl" transform="translate(20.5,772.5) rotate(-90)" textLength="86" lengthAdjust="spacingAndGlyphs">Discharge (m³/s)</text>
<text class="yr" x="158.3" y="881.5">Year</text>
<text class="pl" x="61.7" y="720" textLength="16.5" lengthAdjust="spacingAndGlyphs">(j)</text>
</svg>
</body></html>
